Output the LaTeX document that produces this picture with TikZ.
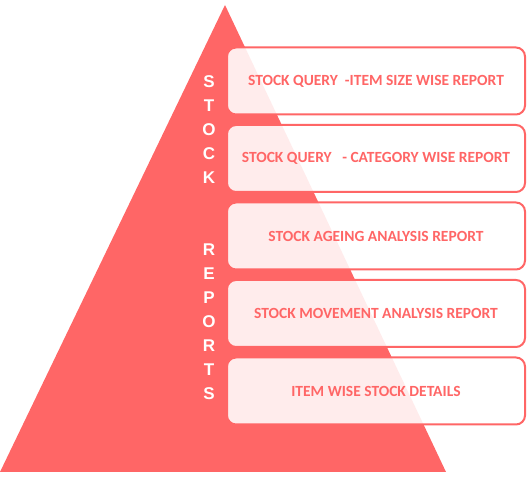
\documentclass[tikz,border=0pt]{standalone}
\usepackage{fontspec}
\usetikzlibrary{positioning}
\newfontfamily\boxfont{Carlito}
\newfontfamily\sidefont{Liberation Sans}
\definecolor{rpred}{HTML}{FF6666}

\begin{document}
\begin{tikzpicture}[x=1pt,y=-1pt,
    report/.style={draw=rpred,line width=2pt,rounded corners=9pt,
      fill=white,fill opacity=0.88,text opacity=1,
      minimum width=298pt,minimum height=67pt,
      font=\boxfont\fontsize{15.5}{18}\selectfont\bfseries,text=rpred},
    sidelbl/.style={font=\sidefont\fontsize{17}{24}\selectfont\bfseries,
      text=white,align=center,inner sep=0pt},
    node distance=8.5pt
  ]
    \useasboundingbox (0,0) rectangle (531,478);
    \fill[rpred] (0,472) -- (225,5) -- (446,472) -- cycle;
    \node[report] (q1) at (376,81) {STOCK QUERY \ -ITEM SIZE WISE REPORT};
    \node[report,below=of q1] (q2) {STOCK QUERY \ \ - CATEGORY WISE REPORT};
    \node[report,below=of q2] (q3) {STOCK AGEING ANALYSIS REPORT};
    \node[report,below=of q3] (q4) {STOCK MOVEMENT ANALYSIS REPORT};
    \node[report,below=of q4] (q5) {ITEM WISE STOCK DETAILS};
    \node[sidelbl] (stk) at (209,237.5)
      {S\\T\\O\\C\\K\\[48pt]R\\E\\P\\O\\R\\T\\S};
\end{tikzpicture}
\end{document}
